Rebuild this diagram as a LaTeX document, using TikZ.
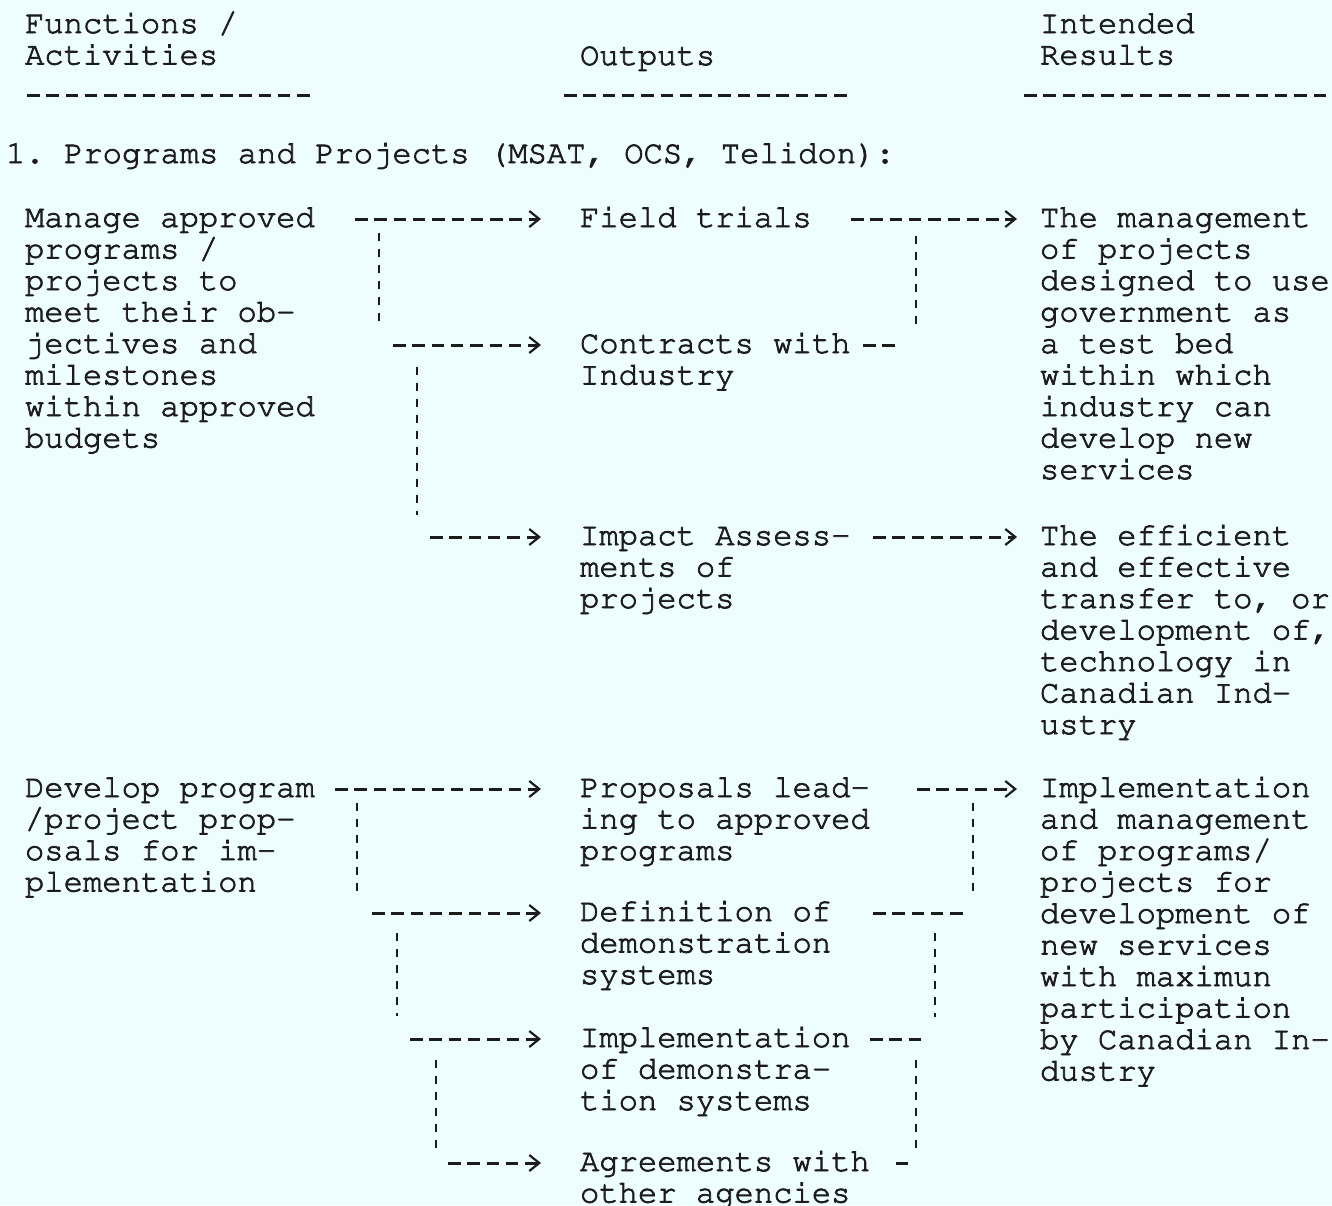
\documentclass[tikz,border=0pt]{standalone}
\usepackage[T1,TU]{fontenc}
\usetikzlibrary{arrows.meta,calc}
\definecolor{paper}{RGB}{238,254,255}
\definecolor{ink}{RGB}{28,28,28}
% typewriter face (Courier) and a fixed line feed
\newcommand\typewriterfont{\fontencoding{T1}\fontfamily{pcr}\fontsize{32.2}{31.5}\selectfont\frenchspacing}
% heavier ribbon impression: fill and stroke the glyphs
\newcommand\inkon{\special{pdf:literal direct 2 Tr 0.75 w}}
\newcommand\inkoff{\special{pdf:literal direct 0 Tr}}
% a block of typed lines; its baseline is that of the first line
\newcommand\typedlines[1]{\vtop{\baselineskip=31.5pt\lineskiplimit=-1000pt\lineskip=0pt\halign{##\hfil\cr#1\crcr}}}
\begin{document}
\begin{tikzpicture}[x=1pt,y=-1pt,
  txt/.style={anchor=base west,inner sep=0pt,outer sep=0pt,text=ink,font=\typewriterfont,
    execute at begin node=\inkon,execute at end node=\inkoff},
  hdash/.style={draw=ink,line width=3pt,dash pattern=on 12.5pt off 6.8pt},
  vdash/.style={draw=ink,line width=2.6pt,dash pattern=on 8pt off 8pt},
  feed/.style={hdash,-{Straight Barb[length=10pt,width=16pt,line width=2.2pt]}}]
\fill[paper] (0,0) rectangle (1332,1205);
\useasboundingbox (0,0) rectangle (1332,1205);

% column heads
\node[txt] (hF) at (25,33) {\typedlines{Functions /\cr Activities}};
\node[txt] (hO) at (580,65) {Outputs};
\node[txt] (hR) at (1040,33) {\typedlines{Intended\cr Results}};
\draw[hdash] (27,95) -- (312,95);
\draw[hdash] (564,95) -- (848,95);
\draw[hdash] (1024,95) -- (1332,95);

\node[txt] (sec) at (6,163) {1. Programs and Projects (MSAT, OCS, Telidon):};

% first group
\node[txt] (L1) at (25,227) {\typedlines{Manage approved\cr programs /\cr projects to\cr meet their ob-\cr jectives and\cr milestones\cr within approved\cr budgets}};
\node[txt] (O1) at (580,227) {Field trials};
\node[txt] (O2) at (580,353) {\typedlines{Contracts with\cr Industry}};
\node[txt] (O3) at (580,545) {\typedlines{Impact Assess-\cr ments of\cr projects}};
\node[txt] (R1) at (1040,227) {\typedlines{The management\cr of projects\cr designed to use\cr government as\cr a test bed\cr within which\cr industry can\cr develop new\cr services}};
\node[txt] (R2) at (1040,545) {\typedlines{The efficient\cr and effective\cr transfer to, or\cr development of,\cr technology in\cr Canadian Ind-\cr ustry}};

% second group
\node[txt] (L2) at (25,797) {\typedlines{Develop program\cr /project prop-\cr osals for im-\cr plementation}};
\node[txt] (O4) at (580,797) {\typedlines{Proposals lead-\cr ing to approved\cr programs}};
\node[txt] (O5) at (580,921) {\typedlines{Definition of\cr demonstration\cr systems}};
\node[txt] (O6) at (580,1047) {\typedlines{Implementation\cr of demonstra-\cr tion systems}};
\node[txt] (O7) at (580,1171) {\typedlines{Agreements with\cr other agencies}};
\node[txt] (R3) at (1040,797) {\typedlines{Implementation\cr and management\cr of programs/\cr projects for\cr development of\cr new services\cr with maximun\cr participation\cr by Canadian In-\cr dustry}};

% first group: activities to outputs
\coordinate (a1) at (355,219);
\draw[feed] (a1) -- ($(O1.base west)+(-39,-8)$);
\coordinate (b1t) at (379,233);
\coordinate (b1b) at (379,325);
\draw[vdash] (b1t) -- (b1b);
\coordinate (a2) at (393,345);
\draw[feed] (a2) -- ($(O2.base west)+(-39,-8)$);
\coordinate (b2t) at (417,367);
\coordinate (b2b) at (417,515);
\draw[vdash] (b2t) -- (b2b);
\coordinate (a3) at (430,537);
\draw[feed] (a3) -- ($(O3.base west)+(-39,-8)$);

% first group: outputs to results
\draw[feed] ($(O1.base west)+(271,-8)$) -- ($(R1.base west)+(-23,-8)$);
\coordinate (c1t) at (916,236);
\coordinate (c1b) at (916,325);
\draw[vdash] (c1t) -- (c1b);
\draw[hdash] ($(O2.base west)+(283,-8)$) -- ++(32,0);
\draw[feed] ($(O3.base west)+(293,-8)$) -- ($(R2.base west)+(-23,-8)$);

% second group: activities to outputs
\coordinate (d1) at (335,789);
\draw[feed] (d1) -- ($(O4.base west)+(-39,-8)$);
\coordinate (e1t) at (357,803);
\coordinate (e1b) at (357,892);
\draw[vdash] (e1t) -- (e1b);
\coordinate (d2) at (372,913);
\draw[feed] (d2) -- ($(O5.base west)+(-39,-8)$);
\coordinate (e2t) at (397,933);
\coordinate (e2b) at (397,1016);
\draw[vdash] (e2t) -- (e2b);
\coordinate (d3) at (410,1039);
\draw[feed] (d3) -- ($(O6.base west)+(-39,-8)$);
\coordinate (e3t) at (436,1060);
\coordinate (e3b) at (436,1150);
\draw[vdash] (e3t) -- (e3b);
\coordinate (d4) at (448,1163);
\draw[feed] (d4) -- ($(O7.base west)+(-39,-8)$);

% second group: outputs to results
\draw[feed] ($(O4.base west)+(337,-8)$) -- ($(R3.base west)+(-23,-8)$);
\coordinate (f1t) at (973,803);
\coordinate (f1b) at (973,893);
\draw[vdash] (f1t) -- (f1b);
\draw[hdash] ($(O5.base west)+(293,-8)$) -- ++(90,0);
\coordinate (f2t) at (935,933);
\coordinate (f2b) at (935,1017);
\draw[vdash] (f2t) -- (f2b);
\draw[hdash] ($(O6.base west)+(290,-8)$) -- ++(51,0);
\coordinate (f3t) at (916,1060);
\coordinate (f3b) at (916,1150);
\draw[vdash] (f3t) -- (f3b);
\draw[hdash] ($(O7.base west)+(316,-8)$) -- ++(12,0);
\end{tikzpicture}
\end{document}
